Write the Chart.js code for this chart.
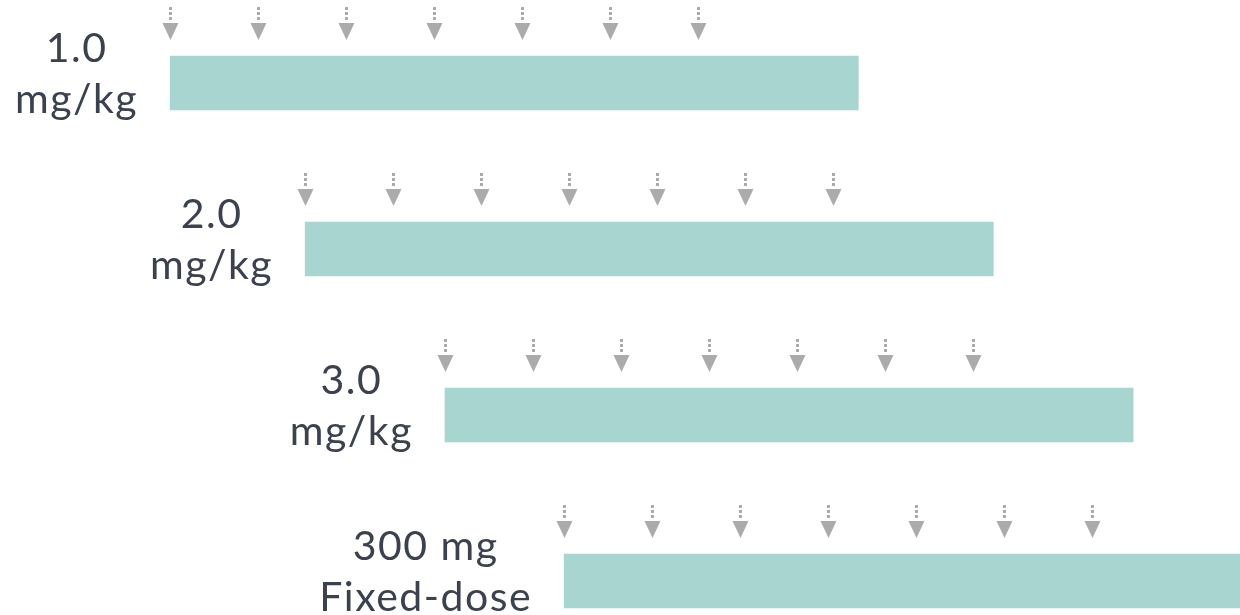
<!DOCTYPE html>
<html>
<head>
<meta charset="utf-8">
<script src="https://cdn.jsdelivr.net/npm/chart.js@4.4.1/dist/chart.umd.min.js"></script>
<style>
  html, body { margin: 0; padding: 0; background: #ffffff; }
</style>
</head>
<body>
<canvas id="doseChart" width="1240" height="615"></canvas>
<script>
// dose groups (two text lines each)
const doseGroups = [['1.0', 'mg/kg'], ['2.0', 'mg/kg'], ['3.0', 'mg/kg'], ['300 mg', 'Fixed-dose']];
// treatment window, in weeks
const startWeek = [0, 3.07, 6.25, 8.96];
const endWeek = [15.65, 18.72, 21.9, 24.61];
// dosing times, weeks after start of each group
const doseWeeks = [0, 2, 4, 6, 8, 10, 12];

const barColor = '#a8d5d0';
const arrowColor = '#ababab';
const textColor = '#3b424d';

const ctx = document.getElementById('doseChart').getContext('2d');

const doseChart = new Chart(ctx, {
  type: 'bar',
  data: {
    labels: doseGroups.map(g => g.join(' ')),
    datasets: [{
      data: startWeek.map((s, i) => [s, endWeek[i]]),
      backgroundColor: barColor,
      borderWidth: 0,
      barThickness: 54,
      clip: false
    }]
  },
  options: {
    indexAxis: 'y',
    responsive: false,
    animation: false,
    layout: {
      padding: { top: 83, bottom: 34, left: 0, right: 0 }
    },
    scales: {
      x: { type: 'linear', min: -3.87, max: 24.33, display: false },
      y: { display: false, offset: false }
    },
    plugins: {
      legend: { display: false },
      tooltip: { enabled: false }
    }
  },
  plugins: [{
    id: 'doseArrowsAndLabels',
    afterDatasetsDraw: function(chart) {
      const c = chart.ctx;
      const xScale = chart.scales.x;
      const meta = chart.getDatasetMeta(0);

      c.save();
      meta.data.forEach((bar, i) => {
        const top = bar.y - bar.height / 2;
        const tip = top - 16;

        // dosing arrows: dotted stem + triangle head
        c.fillStyle = arrowColor;
        doseWeeks.forEach(w => {
          const x = Math.round(xScale.getPixelForValue(startWeek[i] + w)) + 0.5;
          [33, 28, 23].forEach(d => {
            c.fillRect(x - 1.5, tip - d, 3, 3);
          });
          c.beginPath();
          c.moveTo(x - 8, tip - 17);
          c.lineTo(x + 8, tip - 17);
          c.lineTo(x, tip);
          c.closePath();
          c.fill();
        });

        // group label, centred left of the bar
        c.font = '400 41px Lato, "Open Sans", sans-serif';
        c.letterSpacing = '1.5px';
        c.fillStyle = textColor;
        c.textAlign = 'center';
        c.textBaseline = 'alphabetic';
        const lines = doseGroups[i];
        const maxW = Math.max(...lines.map(t => c.measureText(t).width));
        const left = xScale.getPixelForValue(startWeek[i]);
        const cx = left - 32 - maxW / 2;
        c.fillText(lines[0], cx, bar.y - 21);
        c.fillText(lines[1], cx, bar.y + 30);
      });
      c.restore();
    }
  }]
});
</script>
</body>
</html>
